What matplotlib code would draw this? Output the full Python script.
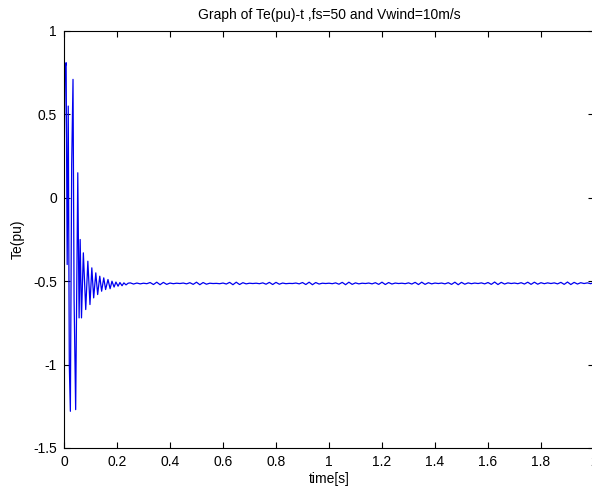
import numpy as np
import matplotlib
matplotlib.use("Agg")
import matplotlib.pyplot as plt

plt.rcParams["font.family"] = ["Liberation Sans", "DejaVu Sans"]

# transient part: turning points (time [s], Te [pu])
transient_t = [0.000, 0.004, 0.008, 0.012, 0.016, 0.020, 0.024, 0.029, 0.034, 0.038,
               0.044, 0.052, 0.057, 0.061, 0.066, 0.073, 0.082, 0.090, 0.098, 0.105,
               0.112, 0.120, 0.127, 0.135, 0.142, 0.150, 0.157, 0.166, 0.174, 0.181,
               0.189, 0.196, 0.204, 0.211, 0.219, 0.226, 0.234, 0.242]
transient_v = [0.12, 0.78, 0.81, -0.40, 0.55, -1.00, -1.28, 0.20, 0.71, -0.60,
               -1.27, 0.15, -0.72, -0.25, -0.72, -0.33, -0.67, -0.38, -0.64, -0.42,
               -0.60, -0.45, -0.58, -0.47, -0.56, -0.48, -0.55, -0.49, -0.545, -0.50,
               -0.535, -0.505, -0.53, -0.508, -0.527, -0.51, -0.522, -0.512]

# steady part: small ripple around -0.513, sampled every 12.5 ms from 0.25 s
steady_start = 0.25
steady_step = 0.0125
steady_v = [
    -0.510, -0.517, -0.511, -0.516, -0.512, -0.515, -0.508, -0.520, -0.506, -0.521, -0.507,
    -0.519, -0.511, -0.515, -0.512, -0.514, -0.511, -0.516, -0.509, -0.519, -0.506, -0.521,
    -0.508, -0.518, -0.512, -0.514, -0.513, -0.515, -0.511, -0.517, -0.507, -0.521, -0.506,
    -0.520, -0.509, -0.516, -0.512, -0.514, -0.512, -0.515, -0.510, -0.518, -0.507, -0.520,
    -0.507, -0.518, -0.511, -0.515, -0.513, -0.514, -0.511, -0.516, -0.508, -0.520, -0.506,
    -0.521, -0.508, -0.517, -0.512, -0.514, -0.512, -0.515, -0.510, -0.518, -0.507, -0.521,
    -0.506, -0.519, -0.510, -0.516, -0.512, -0.514, -0.511, -0.516, -0.509, -0.519, -0.506,
    -0.520, -0.508, -0.517, -0.511, -0.514, -0.512, -0.515, -0.510, -0.517, -0.507, -0.520,
    -0.506, -0.519, -0.509, -0.516, -0.511, -0.514, -0.511, -0.516, -0.509, -0.519, -0.506,
    -0.521, -0.507, -0.518, -0.510, -0.515, -0.511, -0.514, -0.510, -0.516, -0.508, -0.519,
    -0.505, -0.520, -0.507, -0.517, -0.510, -0.514, -0.511, -0.515, -0.509, -0.517, -0.506,
    -0.519, -0.506, -0.518, -0.509, -0.515, -0.510, -0.514, -0.510, -0.516, -0.507, -0.519,
    -0.505, -0.520, -0.507, -0.517, -0.509, -0.514, -0.510, -0.515, -0.508, -0.517, -0.506,
]

x_ticks = [0, 0.2, 0.4, 0.6, 0.8, 1, 1.2, 1.4, 1.6, 1.8, 2]
x_tick_labels = ["0", "0.2", "0.4", "0.6", "0.8", "1", "1.2", "1.4", "1.6", "1.8", "2"]
y_ticks = [-1.5, -1, -0.5, 0, 0.5, 1]
y_tick_labels = ["-1.5", "-1", "-0.5", "0", "0.5", "1"]

steady_t = steady_start + steady_step * np.arange(len(steady_v))
t = np.concatenate([transient_t, steady_t])
te = np.concatenate([transient_v, steady_v])

fig = plt.figure(figsize=(5.92, 4.97), dpi=100)
# axes runs a pixel past the right edge like the original screenshot
ax = fig.add_axes([64 / 592, 49 / 497, 530 / 592, 417 / 497])
ax.plot(t, te, color="#0000f0", linewidth=0.9)

ax.set_xlim(0, 2)
ax.set_ylim(-1.5, 1)
ax.set_xticks(x_ticks)
ax.set_xticklabels(x_tick_labels)
ax.set_yticks(y_ticks)
ax.set_yticklabels(y_tick_labels)
ax.tick_params(direction="in", length=4, width=0.8, top=True, right=True,
               labelsize=10, pad=5)
for side in ["top", "bottom", "left", "right"]:
    ax.spines[side].set_linewidth(0.8)

ax.set_title("Graph of Te(pu)-t ,fs=50 and Vwind=10m/s", fontsize=10, pad=9)
ax.set_xlabel("time[s]", fontsize=10, labelpad=2)
ax.set_ylabel("Te(pu)", fontsize=10, labelpad=6)

fig.savefig("out.png", dpi=100)
